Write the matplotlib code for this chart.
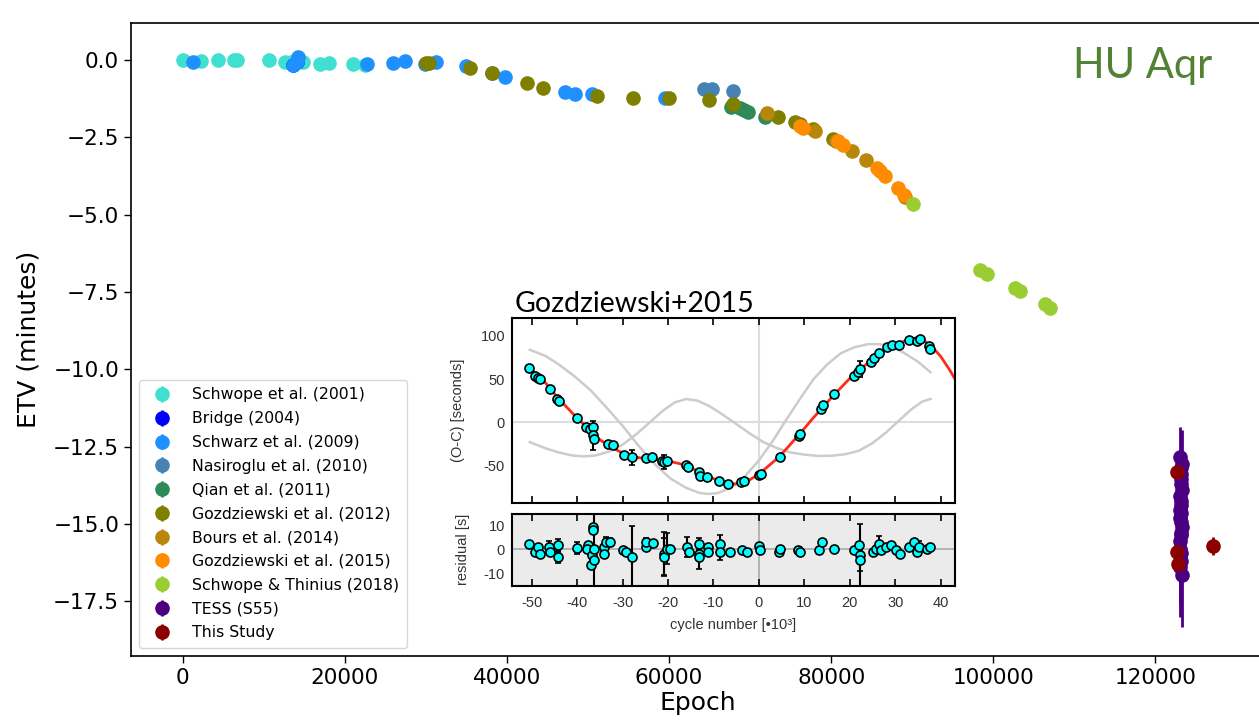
import matplotlib
matplotlib.use("Agg")
import matplotlib.pyplot as plt

# ---------------- Main ETV data (epoch, ETV in minutes) ----------------
schwope01_epoch = [0, 2300, 4300, 6300, 6700, 10700, 12600, 13400, 14800, 16900, 18100, 21000, 22500]
schwope01_etv = [0.0, -0.02, -0.01, 0.01, 0.0, 0.0, -0.06, -0.07, -0.06, -0.11, -0.08, -0.14, -0.17]

bridge04_epoch = [13600, 14050]
bridge04_etv = [-0.16, -0.05]

schwarz09_epoch = [1300, 13600, 14050, 14250, 22700, 25900, 27400, 29900, 31300, 34900,
                   38100, 39800, 47200, 48400, 50450, 59500]
schwarz09_etv = [-0.05, -0.16, -0.05, 0.11, -0.14, -0.09, -0.02, -0.14, -0.07, -0.19,
                 -0.43, -0.56, -1.02, -1.10, -1.08, -1.21]

nasiroglu10_epoch = [64300, 65300, 67900]
nasiroglu10_etv = [-0.95, -0.95, -1.00]

qian11_epoch = [67600, 68700, 69200, 69800, 71800]
qian11_etv = [-1.51, -1.56, -1.62, -1.69, -1.83]

gozd12_epoch = [30000, 30400, 35450, 38150, 42450, 44500, 51100, 55600, 60050, 64950,
                67950, 73500, 75550, 76200, 77800, 80250]
gozd12_etv = [-0.09, -0.08, -0.27, -0.41, -0.75, -0.91, -1.15, -1.21, -1.24, -1.29,
              -1.43, -1.83, -1.99, -2.05, -2.23, -2.55]

bours14_epoch = [72050, 78000, 80600, 82550, 84300, 89100]
bours14_etv = [-1.70, -2.29, -2.60, -2.93, -3.23, -4.42]

gozd15_epoch = [76160, 76530, 80850, 81470, 85660, 86030, 86650, 88250, 88990]
gozd15_etv = [-2.13, -2.20, -2.62, -2.75, -3.49, -3.59, -3.75, -4.14, -4.36]

schwope18_epoch = [90150, 98350, 99250, 102700, 103300, 106400, 107000]
schwope18_etv = [-4.66, -6.79, -6.92, -7.36, -7.46, -7.89, -8.01]

tess_epoch = [123020, 123180, 123090, 123240, 123050, 123150, 123210, 123110, 123260, 123070,
              123200, 123130, 123030, 123230, 123100, 123170, 123060, 123250, 123140, 123190,
              123080, 123220, 123120, 123040]
tess_etv = [-12.85, -13.40, -14.10, -13.05, -14.80, -13.70, -15.30, -14.40, -13.90, -15.80,
            -14.95, -16.20, -15.55, -16.65, -13.20, -14.65, -16.00, -15.10, -14.25, -15.95,
            -16.40, -13.55, -15.35, -14.55]
tess_err = [1.00, 1.15, 1.30, 1.10, 1.40, 1.25, 1.45, 1.35, 1.20, 1.50,
            1.40, 1.55, 1.45, 1.68, 1.15, 1.35, 1.60, 1.45, 1.30, 1.55,
            1.60, 1.20, 1.50, 1.40]

study_epoch = [122700, 122720, 122740, 127100]
study_etv = [-13.33, -15.90, -16.30, -15.71]
study_err = [0.05, 0.05, 0.05, 0.28]

series_labels = ["Schwope et al. (2001)", "Bridge (2004)", "Schwarz et al. (2009)",
                 "Nasiroglu et al. (2010)", "Qian et al. (2011)", "Gozdziewski et al. (2012)",
                 "Bours et al. (2014)", "Gozdziewski et al. (2015)", "Schwope & Thinius (2018)",
                 "TESS (S55)", "This Study"]
series_colors = ["turquoise", "blue", "dodgerblue", "steelblue", "seagreen", "olive",
                 "darkgoldenrod", "darkorange", "yellowgreen", "indigo", "darkred"]

x_ticks = [0, 20000, 40000, 60000, 80000, 100000, 120000]
y_ticks = [0.0, -2.5, -5.0, -7.5, -10.0, -12.5, -15.0, -17.5]

# ---------------- Inset data (Gozdziewski+2015) ----------------
oc_cycle = [-50.5, -49.3, -48.5, -48.1, -46.0, -44.3, -44.0, -40.0, -38.0, -37.2, -36.6, -36.4,
            -36.2, -33.3, -32.1, -29.7, -28.0, -24.9, -23.5, -21.4, -20.9, -20.2, -16.0, -15.6,
            -13.1, -13.0, -11.4, -8.8, -6.7, -4.0, -3.3, -0.1, 0.4, 4.6, 8.8, 9.1, 13.7, 14.0,
            16.6, 20.8, 21.7, 22.3, 24.6, 25.3, 26.4, 28.2, 29.3, 30.8, 32.9, 34.7, 35.5, 37.3, 37.7]
oc_value = [63, 54, 51, 50, 38, 27, 25, 4.6, -6, -8, -5, -15,
            -19, -25, -26, -37.5, -40.6, -41.7, -40.6, -44.5, -46, -44.5, -50, -52,
            -58, -62, -63, -67.6, -71.5, -68.8, -67.6, -60.7, -59.5, -40.6, -15.5, -14, 15.5, 20.5,
            32.9, 54.1, 58, 61.8, 70.4, 74.6, 80, 87, 89.7, 90, 95.5, 94.7, 96.6, 88.9, 85]
oc_err = [1.5, 1.5, 1.5, 1.5, 1.5, 1.5, 1.5, 1.5, 1.5, 1.5, 1.5, 17,
          1.5, 1.5, 1.5, 1.5, 9, 1.5, 1.5, 1.5, 8, 1.5, 1.5, 1.5,
          1.5, 1.5, 1.5, 1.5, 1.5, 1.5, 1.5, 1.5, 1.5, 1.5, 1.5, 1.5, 1.5, 1.5,
          1.5, 1.5, 1.5, 9, 1.5, 1.5, 1.5, 1.5, 1.5, 1.5, 1.5, 1.5, 1.5, 1.5, 1.5]

# best-fit two-companion model (red) and its two components (grey)
model_cycle = [-50.5, -48, -46, -44.2, -42, -40, -38, -36.2, -34.5, -33, -31, -29, -27, -25,
               -23, -21, -19, -17, -15, -13, -11, -9, -7, -5.5, -4, -2, 0, 2, 4, 6, 8, 10,
               12, 14, 16, 18, 20, 22, 24, 26, 28, 30, 32, 34, 36, 38, 40, 42, 43.1]
model_oc = [63, 52, 40, 28, 16, 5, -5, -15, -22, -26, -33, -38, -40.5, -42,
            -43, -44.3, -46, -48.5, -52.5, -58, -63, -67.5, -70.5, -71.5, -70.5, -66.5, -60, -51,
            -42, -31, -19, -7, 5.5, 17, 29, 40, 51, 60, 69, 77, 84, 90, 94, 96.5, 95.5, 88, 76,
            60, 50]

comp1_cycle = [-50.4, -47, -44, -40.5, -37, -33.5, -30, -26.5, -23, -19.5, -16, -13, -11, -9,
               -6, -3, 0, 3, 6, 9, 12, 15, 18, 21, 24, 26.5, 29, 32, 35, 37.7]
comp1_oc = [84, 77, 67, 53, 37, 17, -4, -27, -48, -65, -76, -82, -83, -82,
            -75, -62, -44, -22, 3, 27, 50, 67, 80, 87, 90.5, 90.5, 88, 80, 70, 58]

comp2_cycle = [-50.4, -47, -44, -41, -38.5, -36, -33, -30, -27, -24, -21, -18.5, -16, -13.5,
               -11, -8, -5, -2, 1, 4, 7, 10, 13, 16, 19, 22, 25, 28, 31, 33.5, 35.9, 37.7]
comp2_oc = [-23, -30, -35, -38.5, -39.5, -38.5, -34, -26, -14, 0, 14, 23, 27, 25,
            19, 9, -2, -13, -23, -30, -35, -37.5, -39, -38.7, -37, -32.9, -24, -11.6, 3, 15,
            24, 27]

res_cycle = [-50.6, -49.3, -48.5, -48.2, -46.2, -46.0, -44.2, -44.2, -40.0, -37.6, -37.8, -36.5,
             -36.5, -36.8, -36.9, -36.2, -36.3, -34.0, -33.6, -32.7, -34.0, -29.8, -29.3, -28.0,
             -24.9, -24.9, -23.4, -20.9, -20.9, -20.2, -19.5, -15.8, -15.4, -13.1, -13.1, -13.1,
             -11.2, -11.2, -8.5, -8.5, -6.3, -3.8, -2.7, -0.1, 0.3, 4.4, 4.6, 8.6, 9.0, 13.3,
             13.9, 16.6, 21.0, 22.1, 22.2, 22.2, 25.0, 25.7, 26.4, 26.8, 27.9, 29.0, 30.1, 31.1,
             33.0, 34.0, 34.8, 35.2, 37.0, 37.7]
res_value = [2.3, -1.1, 1.0, -1.8, 1.0, -1.1, 1.7, -3.4, 0.7, 1.7, 0.0, 9.2,
             8.1, -2.5, -6.6, -4.6, 0.3, 1.0, 3.0, 3.0, -1.8, -0.4, -1.1, -3.2,
             1.0, 3.0, 2.6, -1.8, -3.2, 0.3, 0.3, 1.0, -1.1, 2.3, -1.8, -3.2,
             1.0, -1.1, 2.3, -1.1, -1.1, -0.4, -1.1, 1.2, -0.4, -1.1, 0.3, -0.4, -1.1, -0.4,
             3.0, 0.3, -0.4, 1.7, -2.5, -4.6, -1.1, 0.3, 2.3, -0.4, 1.0, 1.7, -0.4, -1.8,
             1.0, 3.0, -1.1, 1.0, 0.3, 1.0]
res_err = [0.8, 0.8, 0.8, 0.8, 2.5, 0.8, 2.5, 2.3, 2.5, 0.8, 0.8, 1.0,
           1.0, 1.0, 1.0, 1.0, 16, 0.8, 2.0, 1.5, 0.8, 0.8, 0.8, 13,
           0.8, 1.5, 0.8, 9, 8, 6.5, 0.8, 4.0, 0.8, 2.5, 0.8, 5.0,
           0.8, 0.8, 3.5, 3.5, 0.8, 0.8, 0.8, 0.8, 0.8, 1.5, 0.8, 0.8, 0.8, 0.8,
           0.8, 0.8, 0.8, 1.5, 13, 4.5, 0.8, 0.8, 3.0, 0.8, 0.8, 0.8, 0.8, 0.8,
           0.8, 1.0, 0.8, 2.5, 0.8, 0.8]

cycle_ticks = [-50, -40, -30, -20, -10, 0, 10, 20, 30, 40]
oc_ticks = [-50, 0, 50, 100]
res_ticks = [-10, 0, 10]

# ---------------- Figure ----------------
W, H = 1259, 720
fig = plt.figure(figsize=(W / 100, H / 100), dpi=100)

ax = fig.add_axes([131 / W, 1 - 656 / H, (1264 - 131) / W, (656 - 23) / H])

main_series = [
    (schwope01_epoch, schwope01_etv, 0.03),
    (bridge04_epoch, bridge04_etv, 0.03),
    (schwarz09_epoch, schwarz09_etv, 0.03),
    (nasiroglu10_epoch, nasiroglu10_etv, 0.03),
    (qian11_epoch, qian11_etv, 0.03),
    (gozd12_epoch, gozd12_etv, 0.03),
    (bours14_epoch, bours14_etv, 0.03),
    (gozd15_epoch, gozd15_etv, 0.03),
    (schwope18_epoch, schwope18_etv, 0.03),
    (tess_epoch, tess_etv, tess_err),
    (study_epoch, study_etv, study_err),
]
for (ex, ey, ee), lab, col in zip(main_series, series_labels, series_colors):
    ax.errorbar(ex, ey, yerr=ee, fmt="o", color=col, ms=9.5, elinewidth=2,
                capsize=0, label=lab)

ax.set_xlim(-6380, 133400)
ax.set_ylim(-19.27, 1.2)
ax.set_xticks(x_ticks)
ax.set_yticks(y_ticks)
ax.tick_params(labelsize=15.5, length=5, width=1)
ax.set_xlabel("Epoch", fontsize=18, labelpad=2)
ax.set_ylabel("ETV (minutes)", fontsize=18, labelpad=9)
for s in ax.spines.values():
    s.set_linewidth(1.2)

leg = ax.legend(loc="lower left", fontsize=11.3, labelspacing=0.56,
                handletextpad=0.9, borderpad=0.5)

fig.text(1073 / W, 1 - 78 / H, "HU Aqr", fontsize=30, color="#548235",
         family="Lato", va="baseline", ha="left")

# ---------------- Inset panels ----------------
inset_font = ["Liberation Sans", "DejaVu Sans"]
txt_col = "#333333"

axt = fig.add_axes([512 / W, 1 - 503 / H, 443 / W, 185 / H])
axt.set_facecolor("white")
axt.axhline(0, color="#dddddd", lw=1.5, zorder=0)
axt.axvline(0, color="#dddddd", lw=1.5, zorder=0)
axt.plot(comp1_cycle, comp1_oc, color="#cccccc", lw=1.8, zorder=1)
axt.plot(comp2_cycle, comp2_oc, color="#cccccc", lw=1.8, zorder=1)
axt.plot(model_cycle, model_oc, color="#ff2a1a", lw=2.0, zorder=2)
axt.errorbar(oc_cycle, oc_value, yerr=oc_err, fmt="o", ms=6.5, mfc="#00ffff", mec="black",
             mew=1.2, ecolor="black", elinewidth=1.5, capsize=2.5, zorder=3)
axt.set_xlim(-54.3, 43.1)
axt.set_ylim(-93.5, 120.8)
axt.set_xticks(cycle_ticks)
axt.set_xticklabels([])
axt.set_yticks(oc_ticks)
axt.set_yticklabels([str(v) for v in oc_ticks], family=inset_font, fontsize=10.5, color=txt_col)
axt.tick_params(axis="x", direction="in", top=True, bottom=True, length=5, width=1.2)
axt.tick_params(axis="y", length=0, pad=5)
axt.set_ylabel("(O-C) [seconds]", family=inset_font, fontsize=10.5, color=txt_col)
axt.yaxis.set_label_coords(-0.106, 0.5)
for s in axt.spines.values():
    s.set_linewidth(1.5)

axb = fig.add_axes([512 / W, 1 - 586 / H, 443 / W, 72.5 / H])
axb.set_facecolor("#ebebeb")
axb.axhline(0, color="#aaaaaa", lw=1.2, zorder=0)
axb.axvline(0, color="#aaaaaa", lw=1.2, zorder=0)
axb.errorbar(res_cycle, res_value, yerr=res_err, fmt="o", ms=6.5, mfc="#00ffff", mec="black",
             mew=1.2, ecolor="black", elinewidth=1.5, capsize=2.5, zorder=3)
axb.set_xlim(-54.3, 43.1)
axb.set_ylim(-15.2, 14.8)
axb.set_xticks(cycle_ticks)
axb.set_xticklabels([str(v) for v in cycle_ticks], family=inset_font, fontsize=10.5, color=txt_col)
axb.set_yticks(res_ticks)
axb.set_yticklabels([str(v) for v in res_ticks], family=inset_font, fontsize=10.5, color=txt_col)
axb.tick_params(axis="x", direction="in", top=True, bottom=True, length=5, width=1.2, pad=7)
axb.tick_params(axis="y", length=0, pad=5)
axb.set_ylabel("residual [s]", family=inset_font, fontsize=10.5, color=txt_col)
axb.yaxis.set_label_coords(-0.095, 0.5)
axb.set_xlabel("cycle number [\u202210\u00b3]", family=inset_font, fontsize=10.5, color=txt_col)
axb.xaxis.set_label_coords(0.5, -0.44)
for s in axb.spines.values():
    s.set_linewidth(1.5)

fig.text(515 / W, 1 - 311.7 / H, "Gozdziewski+2015", fontsize=20.5, color="black",
         family="Lato", va="baseline", ha="left")

fig.savefig("out.png", dpi=100)
